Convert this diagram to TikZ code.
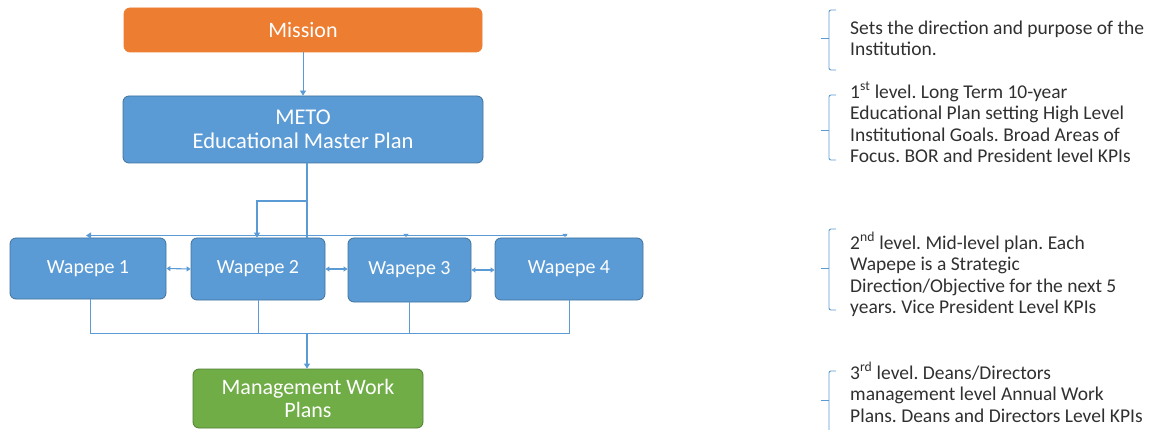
\documentclass[tikz,border=0pt]{standalone}
\usepackage{fontspec}
\setmainfont{Carlito}
\frenchspacing
\usetikzlibrary{arrows.meta}
\definecolor{morange}{HTML}{ED7D31}
\definecolor{mblue}{HTML}{5B9BD5}
\definecolor{mbord}{HTML}{41719C}
\definecolor{mgreen}{HTML}{70AD47}
\definecolor{mgbord}{HTML}{507E32}
\definecolor{mtext}{HTML}{303030}
\tikzset{
  box/.style={rounded corners=6pt, draw=mbord, line width=0.8pt, fill=mblue, text=white, align=center, inner sep=0pt},
  conn/.style={draw=mblue, line width=1.1pt},
  tip/.style={-{Triangle[length=5pt,width=6pt]}},
  dtip/.style={{Triangle[length=4pt,width=5pt]}-{Triangle[length=4pt,width=5pt]}},
  brace/.style={draw=mblue, line width=0.9pt, rounded corners=2pt},
  note/.style={anchor=north west, inner sep=0pt, text=mtext, align=left, font=\fontsize{19.5}{21.5}\selectfont}
}
\begin{document}
\begin{tikzpicture}[x=1pt,y=-1pt]
\useasboundingbox (0,0) rectangle (1156,430);
% boxes
\node[box, fill=morange, draw=morange, minimum width=358pt, minimum height=44pt, font=\fontsize{22}{25}\selectfont] (mission) at (303,30) {Mission};
\node[box, minimum width=360pt, minimum height=67pt, font=\fontsize{22.5}{24.5}\selectfont] (meto) at (303,129.5) {METO\\Educational Master Plan};
\node[box, minimum width=156pt, minimum height=61pt, font=\fontsize{20}{22}\selectfont] (w1) at (88,268.5) {Wapepe 1};
\node[box, minimum width=134pt, minimum height=62pt, font=\fontsize{20}{22}\selectfont] (w2) at (258,269) {Wapepe 2};
\node[box, minimum width=123pt, minimum height=64pt, font=\fontsize{20}{22}\selectfont] (w3) at (409.5,270) {Wapepe 3};
\node[box, minimum width=148pt, minimum height=62pt, font=\fontsize{20}{22}\selectfont] (w4) at (569,269) {Wapepe 4};
\node[box, fill=mgreen, draw=mgbord, minimum width=230pt, minimum height=59pt, font=\fontsize{22}{23.5}\selectfont] (mwp) at (308,398.5) {Management Work\\Plans};
% connectors
\coordinate (t0) at (307,163);
\coordinate (tb) at (307,201);
\coordinate (tl) at (257,201);
\coordinate (hl) at (90,235.5);
\coordinate (hr) at (567,235.5);
\coordinate (bj) at (307,333);
\draw[conn, tip, line width=0.8pt] (mission.south) -- (meto.north);
\draw[conn] (meto.south -| t0) -- (w2.north -| t0);
\draw[conn, tip] (tb) -- (tl) -- (w2.north -| tl);
\draw[conn] (hl) -- (hr);
\draw[conn, tip] (hl) -- ++(-4,0);
\draw[conn, -{Triangle[length=3pt,width=5pt]}] (406,234.5) -- (406,237);
\draw[conn, -{Triangle[length=3pt,width=5pt]}] (565,234.5) -- (565,237);
\draw[conn, dtip] (w1.east) -- (w2.west);
\draw[conn, dtip] (w2.east) -- (w3.west |- w2.east);
\draw[conn, dtip] (w3.east) -- (w4.west |- w3.east);
\draw[conn, line width=0.8pt] (w1.south -| hl) |- (bj);
\draw[conn, line width=0.8pt] (w2.south) -- (w2.south |- bj);
\draw[conn, line width=0.8pt] (w3.south) -- (w3.south |- bj) -- (bj);
\draw[conn, line width=0.8pt] (w4.south) |- (bj);
\draw[conn, tip] (bj) -- (mwp.north -| bj);
% braces
\draw[brace] (836,10) -- (829,10) -- (829,70) -- (836,70);
\draw[brace, rounded corners=0pt] (829,38) -- (821,38);
\draw[brace] (836,95) -- (829,95) -- (829,160) -- (836,160);
\draw[brace, rounded corners=0pt] (829,130) -- (821,130);
\draw[brace] (836,229) -- (829,229) -- (829,310) -- (836,310);
\draw[brace, rounded corners=0pt] (829,268) -- (821,268);
\draw[brace] (836,371) -- (829,371) -- (829,432) -- (836,432);
\draw[brace, rounded corners=0pt] (829,400) -- (821,400);
% notes
\node[note] (n1) at (850,19) {\strut Sets the direction and purpose of the\\Institution.};
\node[note] (n2) at (850,82) {\strut 1\textsuperscript{st} level. Long Term 10-year\\Educational Plan setting High Level\\Institutional Goals. Broad Areas of\\Focus. BOR and President level KPIs};
\node[note] (n3) at (850,232) {\strut 2\textsuperscript{nd} level. Mid-level plan. Each\\Wapepe is a Strategic\\Direction/Objective for the next 5\\years. Vice President Level KPIs};
\node[note] (n4) at (850,362) {\strut 3\textsuperscript{rd} level. Deans/Directors\\management level Annual Work\\Plans. Deans and Directors Level KPIs};
\end{tikzpicture}
\end{document}
